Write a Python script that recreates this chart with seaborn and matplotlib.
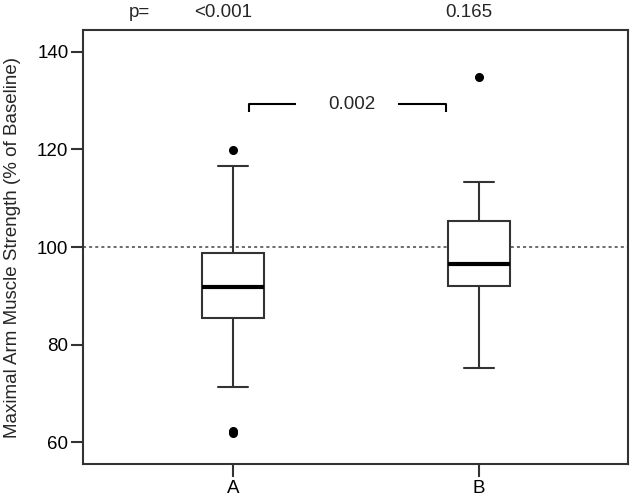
import numpy as np
import pandas as pd
import matplotlib
matplotlib.use("Agg")
import matplotlib.pyplot as plt
import seaborn as sns

# values (percent of baseline)
groups = ["A", "B"]
group_a = [61.8, 62.3, 71.3, 85.5, 87.5, 90.0, 91.9, 94.0, 96.5, 98.7, 104.0, 116.7, 119.9]
group_b = [75.1, 86.0, 90.0, 92.0, 93.5, 95.0, 96.5, 99.0, 102.0, 105.3, 108.0, 113.4, 134.8]
p_within = ["<0.001", "0.165"]
p_between = "0.002"
baseline = 100
y_ticks = [60, 80, 100, 120, 140]

df = pd.DataFrame({
    "group": ["A"] * len(group_a) + ["B"] * len(group_b),
    "strength": group_a + group_b,
})

sns.set_theme(style="ticks")
plt.rcParams["font.family"] = ["Liberation Sans", "DejaVu Sans"]
plt.rcParams["font.size"] = 13.5

fig = plt.figure(figsize=(6.33, 4.99), dpi=100)
ax = fig.add_axes([0.1311, 0.0701, 0.861, 0.8698])

edge = "#333333"
sns.boxplot(data=df, x="group", y="strength", order=groups, ax=ax,
            width=0.25, color="white", linecolor=edge, linewidth=1.5,
            whis=1.5,
            medianprops=dict(color="black", linewidth=3),
            flierprops=dict(marker="o", markerfacecolor="black",
                            markeredgecolor="black", markersize=5.5))

ax.axhline(baseline, color="#444444", linestyle=(0, (2, 2)), linewidth=1.1, zorder=0)

# bracket between the two groups
ax.plot([0.065, 0.065, 0.255], [127.6, 129.3, 129.3], color="black", lw=1.5,
        solid_capstyle="butt")
ax.plot([0.67, 0.866, 0.866], [129.3, 129.3, 127.6], color="black", lw=1.5,
        solid_capstyle="butt")
ax.text(0.484, 129.3, p_between, ha="center", va="center", fontsize=13.5)

# p-values above the plot
trans = ax.get_xaxis_transform()
ax.text(-0.38, 1.04, "p=", transform=trans, ha="center", va="center", fontsize=13.5)
for i, p in enumerate(p_within):
    ax.text(i - 0.04, 1.04, p, transform=trans, ha="center", va="center",
            fontsize=13.5)

ax.set_xlim(-0.61, 1.606)
ax.set_ylim(55.5, 144.5)
ax.set_yticks(y_ticks)
ax.set_xlabel("")
ax.set_ylabel("Maximal Arm Muscle Strength (% of Baseline)", fontsize=13.5)
ax.yaxis.set_label_coords(-0.114, 0.5)

for s in ax.spines.values():
    s.set_color(edge)
    s.set_linewidth(1.5)
ax.tick_params(axis="both", length=9, width=1.5, color=edge, labelsize=13.5,
               labelcolor="black")
ax.tick_params(axis="y", pad=1.5)
ax.tick_params(axis="x", pad=2.5)

fig.savefig("out.png", dpi=100)
